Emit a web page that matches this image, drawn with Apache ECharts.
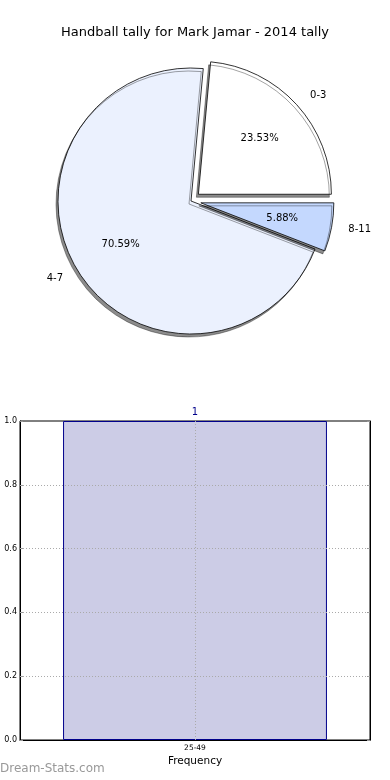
<!DOCTYPE html>
<html>
<head>
<meta charset="utf-8">
<script src="https://cdn.jsdelivr.net/npm/echarts@6/dist/echarts.min.js"></script>
<style>html,body{margin:0;padding:0;background:#fff}#c{width:390px;height:780px}</style>
</head>
<body>
<div id="c"></div>
<script>
var titleText = 'Handball tally for Mark Jamar - 2014 tally';
var pieCategories = ['0-3', '4-7', '8-11'];
var pieValues = [4, 12, 1];
var pieExploded = [true, false, true];
var pieColors = ['#ffffff', '#ebf1fe', '#c4d8fe'];
var barCategories = ['25-49'];
var barValues = [1];
var yTicks = [0.2, 0.4, 0.6, 0.8];
var xAxisName = 'Frequency';
var watermark = 'Dream-Stats.com';

var FONT = 'DejaVu Sans';
var chart = echarts.init(document.getElementById('c'), null, {renderer: 'canvas'});

var pieCenter = [191, 201];
var pieR = 133;

function pieData(showColor) {
  return pieCategories.map(function (name, i) {
    return {
      name: name,
      value: pieValues[i],
      selected: pieExploded[i],
      itemStyle: showColor ? {color: pieColors[i]} : {color: 'rgba(0,0,0,0)', borderWidth: 0, shadowBlur: 0, shadowColor: 'rgba(0,0,0,0)'}
    };
  });
}

var gridLines = yTicks.map(function (v) { return {yAxis: v}; });
gridLines.push({xAxis: barCategories[0]});

var option = {
  animation: false,
  textStyle: {fontFamily: FONT},
  title: {
    text: titleText,
    left: 'center',
    top: 21,
    textStyle: {fontFamily: FONT, fontSize: 13, fontWeight: 'normal', color: '#000'}
  },
  graphic: [{
    type: 'text',
    left: 0,
    top: 763,
    style: {text: watermark, fontFamily: FONT, fontSize: 12, fontWeight: 'normal', fill: '#999999'}
  }],
  grid: {
    left: 20, right: 20, top: 421, bottom: 40,
    show: true, borderColor: '#000', borderWidth: 1, backgroundColor: '#fff'
  },
  xAxis: [{
    type: 'category',
    data: barCategories,
    name: xAxisName,
    nameLocation: 'middle',
    nameGap: 16,
    nameTextStyle: {fontFamily: FONT, fontSize: 10.5, color: '#000'},
    axisLine: {lineStyle: {color: '#000'}},
    axisTick: {show: false},
    axisLabel: {fontFamily: FONT, fontSize: 7.5, color: '#000', margin: 4},
    splitLine: {show: false}
  }],
  yAxis: [{
    type: 'value',
    min: 0, max: 1, interval: 0.2,
    axisLine: {show: true, lineStyle: {color: '#000'}},
    axisTick: {show: true, inside: true, length: 3, lineStyle: {color: '#999'}},
    axisLabel: {fontFamily: FONT, fontSize: 8, color: '#000', margin: 3, formatter: function (v) { return v.toFixed(1); }},
    splitLine: {show: false}
  }, {
    type: 'value',
    position: 'right',
    min: 0, max: 1, interval: 0.2,
    axisLine: {show: true, lineStyle: {color: '#000'}},
    axisTick: {show: true, inside: true, length: 3, lineStyle: {color: '#999'}},
    axisLabel: {show: false},
    splitLine: {show: false}
  }],
  series: [
    {
      type: 'pie',
      center: pieCenter,
      radius: pieR,
      startAngle: 0,
      clockwise: false,
      selectedMode: 'multiple',
      selectedOffset: 10,
      avoidLabelOverlap: false,
      emphasis: {disabled: true},
      silent: true,
      itemStyle: {
        borderColor: '#000', borderWidth: 0.8,
        shadowColor: 'rgba(0,0,0,0.45)', shadowBlur: 0, shadowOffsetX: -2, shadowOffsetY: 3
      },
      label: {
        show: true, position: 'outside', fontFamily: FONT, fontSize: 10, color: '#000',
        formatter: '{b}', distanceToLabelLine: 3
      },
      labelLine: {show: false, length: 14, length2: 0},
      data: pieData(true),
      z: 2
    },
    {
      type: 'pie',
      center: pieCenter,
      radius: [pieR * 0.2, pieR],
      startAngle: 0,
      clockwise: false,
      selectedMode: 'multiple',
      selectedOffset: 10,
      avoidLabelOverlap: false,
      emphasis: {disabled: true},
      silent: true,
      label: {
        show: true, position: 'inside', fontFamily: FONT, fontSize: 10, color: '#000',
        formatter: '{d}%'
      },
      labelLine: {show: false},
      data: pieData(false),
      z: 3
    },
    {
      type: 'bar',
      xAxisIndex: 0,
      yAxisIndex: 0,
      data: barValues,
      barWidth: '75.4%',
      itemStyle: {color: '#ccccE6', borderColor: '#00008b', borderWidth: 1},
      label: {show: true, position: 'top', distance: 4, fontFamily: FONT, fontSize: 10, color: '#00008b'},
      emphasis: {disabled: true},
      markLine: {
        silent: true,
        symbol: 'none',
        label: {show: false},
        lineStyle: {type: [1, 2], color: '#aaaaaa', width: 1},
        data: gridLines
      }
    }
  ]
};
chart.setOption(option);
</script>
</body>
</html>
